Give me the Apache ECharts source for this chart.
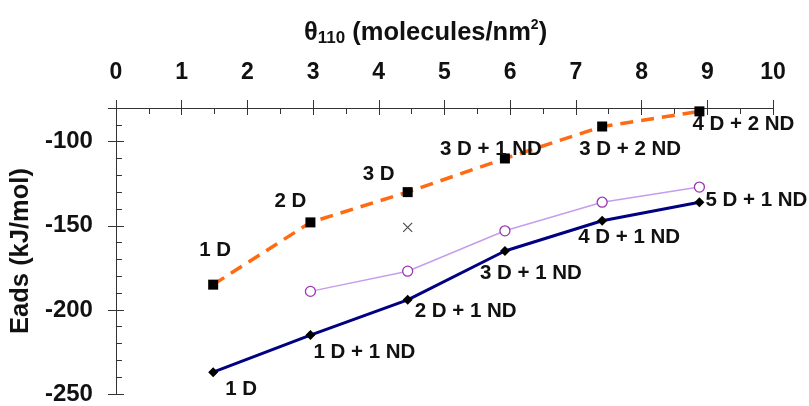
<!DOCTYPE html>
<html>
<head>
<meta charset="utf-8">
<script src="https://cdn.jsdelivr.net/npm/echarts@6/dist/echarts.min.js"></script>
<style>
html,body{margin:0;padding:0;background:#fff;}
#c{width:809px;height:406px;}
</style>
</head>
<body>
<div id="c"></div>
<script>
// ---- data ----
var coverage = [1.48, 2.96, 4.44, 5.92, 7.40, 8.88];
var dashedE = [-185, -148, -130, -110, -91, -82];
var dashedLabels = ['1 D', '2 D', '3 D', '3 D + 1 ND', '3 D + 2 ND', '4 D + 2 ND'];
var solidE = [-237, -215, -194, -165, -147, -136];
var solidLabels = ['1 D', '1 D + 1 ND', '2 D + 1 ND', '3 D + 1 ND', '4 D + 1 ND', '5 D + 1 ND'];
var circleX = [2.96, 4.44, 5.92, 7.40, 8.88];
var circleE = [-189, -177, -153, -136, -127];
var crossX = [4.44];
var crossE = [-151];
var xTicks = [0, 1, 2, 3, 4, 5, 6, 7, 8, 9, 10];
var yTicks = [-250, -200, -150, -100];

// ---- label placement (style) ----
var dashedOffsets = [[2, -34], [-20, -21], [-29, -18], [-14, -9], [28, 23], [44, 13]];
var solidOffsets = [[28, 17], [54, 17], [58, 12], [26, 22], [27, 17], [57, -2]];

var FF = 'Liberation Sans, Arial, sans-serif';
var labelFont = {fontFamily: FF, fontWeight: 'bold', fontSize: 20.5, color: '#111'};

function withLabels(xs, ys, labels, offsets) {
  return xs.map(function (x, i) {
    return {
      value: [x, ys[i]],
      label: Object.assign({show: true, position: 'inside', offset: offsets[i], formatter: labels[i]}, labelFont)
    };
  });
}
function pairs(xs, ys) { return xs.map(function (x, i) { return [x, ys[i]]; }); }

var chart = echarts.init(document.getElementById('c'), null, {renderer: 'canvas'});

var xBase = {type: 'value', min: 0, max: 10, position: 'top', offset: 0, splitLine: {show: false}};
var yBase = {type: 'value', min: -250, max: -80, position: 'left', offset: 0, splitLine: {show: false}};

chart.setOption({
  animation: false,
  backgroundColor: '#fff',
  title: {
    left: 304, top: 18, padding: 0,
    text: '{t|θ}{s|110}{t| (molecules/nm}{p|2}{t|)}',
    textStyle: {
      rich: {
        t: {fontFamily: FF, fontWeight: 'bold', fontSize: 25.5, color: '#111', lineHeight: 29, verticalAlign: 'middle'},
        s: {fontFamily: FF, fontWeight: 'bold', fontSize: 17, color: '#111', lineHeight: 16, verticalAlign: 'bottom'},
        p: {fontFamily: FF, fontWeight: 'bold', fontSize: 14, color: '#111', lineHeight: 13, verticalAlign: 'top'}
      }
    }
  },
  grid: {left: 114, top: 108, right: 36, bottom: 10, containLabel: false},
  xAxis: [
    Object.assign({}, xBase, {
      interval: 1,
      axisLine: {show: true, lineStyle: {color: '#333', width: 1}},
      axisTick: {show: true, inside: true, length: 7, lineStyle: {color: '#333'}},
      axisLabel: {show: true, margin: 24, fontFamily: FF, fontWeight: 'bold', fontSize: 23, color: '#111',
        formatter: function (v) { return xTicks.indexOf(v) >= 0 ? String(v) : ''; }}
    }),
    Object.assign({}, xBase, {
      interval: 1,
      axisLine: {show: false},
      axisTick: {show: true, inside: false, length: 8, lineStyle: {color: '#333'}},
      axisLabel: {show: false}
    }),
    Object.assign({}, xBase, {
      interval: 0.5,
      axisLine: {show: false},
      axisTick: {show: true, inside: true, length: 6, lineStyle: {color: '#333'}},
      axisLabel: {show: false}
    })
  ],
  yAxis: [
    Object.assign({}, yBase, {
      interval: 50,
      name: 'Eads (kJ/mol)', nameLocation: 'middle', nameRotate: 90, nameGap: 73,
      nameTextStyle: {fontFamily: FF, fontWeight: 'bold', fontSize: 25.5, color: '#111'},
      axisLine: {show: true, lineStyle: {color: '#333', width: 1}},
      axisTick: {show: true, inside: true, length: 8, lineStyle: {color: '#333'}},
      axisLabel: {show: true, margin: 23, fontFamily: FF, fontWeight: 'bold', fontSize: 24, color: '#111',
        formatter: function (v) { return yTicks.indexOf(v) >= 0 ? String(v) : ''; }}
    }),
    Object.assign({}, yBase, {
      interval: 50,
      axisLine: {show: false},
      axisTick: {show: true, inside: false, length: 8, lineStyle: {color: '#333'}},
      axisLabel: {show: false}
    }),
    Object.assign({}, yBase, {
      interval: 10,
      axisLine: {show: false},
      axisTick: {show: true, inside: true, length: 6, lineStyle: {color: '#333'}},
      axisLabel: {show: false}
    })
  ],
  series: [
    {
      type: 'line', name: 'dashed', xAxisIndex: 0, yAxisIndex: 0,
      data: withLabels(coverage, dashedE, dashedLabels, dashedOffsets),
      lineStyle: {color: '#FF6A12', width: 3.5, type: [13, 8]},
      symbol: 'rect', symbolSize: 10, showAllSymbol: true,
      itemStyle: {color: '#000', borderWidth: 0},
      z: 3
    },
    {
      type: 'line', name: 'circles', xAxisIndex: 0, yAxisIndex: 0,
      data: pairs(circleX, circleE),
      lineStyle: {color: '#C49EEE', width: 1.5},
      symbol: 'circle', symbolSize: 10, showAllSymbol: true,
      itemStyle: {color: '#fff', borderColor: '#9A35B0', borderWidth: 1.3},
      z: 4
    },
    {
      type: 'line', name: 'solid', xAxisIndex: 0, yAxisIndex: 0,
      data: withLabels(coverage, solidE, solidLabels, solidOffsets),
      lineStyle: {color: '#000080', width: 3},
      symbol: 'diamond', symbolSize: 10, showAllSymbol: true,
      itemStyle: {color: '#000', borderWidth: 0},
      z: 5
    },
    {
      type: 'scatter', name: 'cross', xAxisIndex: 0, yAxisIndex: 0,
      data: pairs(crossX, crossE),
      symbol: 'path://M0,0L10,10M10,0L0,10', symbolSize: 9,
      itemStyle: {color: 'none', borderColor: '#222', borderWidth: 1.2},
      z: 5
    }
  ]
});
</script>
</body>
</html>
